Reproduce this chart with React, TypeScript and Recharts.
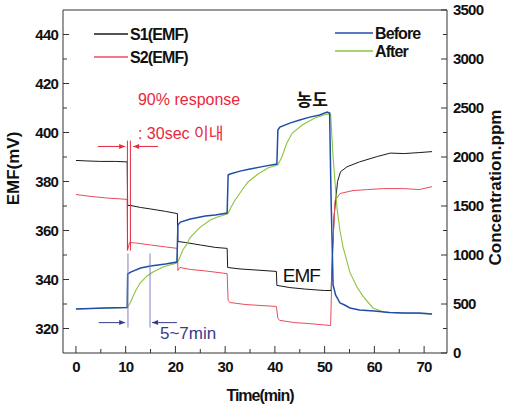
import React from 'react';
import {
  LineChart,
  Line,
  XAxis,
  YAxis,
  ReferenceLine,
  ReferenceDot,
  Legend,
} from 'recharts';

const FONT = '"Liberation Sans", Arial, "Noto Sans CJK KR", sans-serif';

const xTicks = [0, 5, 10, 15, 20, 25, 30, 35, 40, 45, 50, 55, 60, 65, 70];
const emfTicks = [320, 330, 340, 350, 360, 370, 380, 390, 400, 410, 420, 430, 440];
const ppmTicks = [0, 250, 500, 750, 1000, 1250, 1500, 1750, 2000, 2250, 2500, 2750, 3000, 3250, 3500];

// S1(EMF), mV
const s1Time = [0, 2, 5, 8, 10.3, 10.4, 11, 13, 15, 18, 20.4, 20.5, 22, 25, 28, 30.4, 30.5, 33, 36, 40.3, 40.4, 43, 46, 50, 51.3, 51.9, 52.2, 52.6, 53.2, 54.5, 57, 60.6, 63.2, 66, 69, 71.6];
const s1Emf = [388.6, 388.4, 388.2, 388.2, 388.0, 370.2, 370.2, 369.4, 368.8, 367.8, 366.9, 355.5, 355.1, 354.1, 353.1, 352.7, 344.9, 344.3, 343.9, 343.3, 337.6, 336.7, 336.1, 335.5, 335.5, 366.1, 372.0, 380.0, 384.0, 386.0, 388.0, 390.2, 391.6, 391.4, 391.8, 392.2];

// S2(EMF), mV
const s2Time = [0, 3, 6, 10.3, 10.4, 10.8, 12, 15, 18, 20.4, 20.5, 20.9, 23, 26, 30.4, 30.6, 31, 34, 37, 40.3, 40.6, 41, 44, 47, 51.2, 51.6, 52.1, 53.1, 55.7, 58.6, 61.8, 66, 69, 71.6];
const s2Emf = [374.7, 373.9, 373.3, 372.7, 352.2, 355.1, 354.9, 354.1, 353.3, 352.7, 343.7, 344.9, 344.1, 343.5, 342.4, 331.4, 330.6, 329.8, 329.4, 329.0, 324.1, 323.3, 322.4, 322.0, 321.2, 352.0, 372.2, 375.1, 376.3, 376.7, 377.1, 377.1, 376.7, 377.9];

// Before, ppm
const beforeTime = [0, 3, 6, 10.3, 10.4, 11, 13, 15, 18, 20.3, 20.5, 21, 23, 26, 28, 30.4, 30.6, 31, 33, 35, 38, 40.4, 40.6, 41, 43, 45, 47, 49, 50.5, 51.0, 51.3, 51.7, 52.2, 53.1, 54, 55.1, 57, 60, 63, 66, 69, 71.6];
const beforePpm = [449, 454, 459, 464, 806, 826, 867, 887, 908, 928, 1306, 1336, 1367, 1397, 1408, 1428, 1816, 1826, 1856, 1877, 1907, 1928, 2275, 2305, 2346, 2377, 2407, 2428, 2458, 2448, 1561, 694, 592, 510, 490, 459, 439, 428, 413, 408, 408, 398];

// After, ppm
const afterTime = [0, 3, 6, 10.3, 10.4, 11, 11.5, 12.2, 12.9, 14.3, 15.5, 17.5, 20.3, 20.5, 21, 21.5, 22.3, 22.9, 24, 25, 27, 28.5, 30.4, 30.6, 31.2, 32, 33.4, 34.6, 36.6, 38.6, 40.4, 40.6, 41.4, 42.4, 43.5, 45.5, 48, 50.5, 51.2, 51.7, 52.5, 53.1, 53.7, 55.1, 56.5, 57.7, 59.7, 61.8, 65, 71.6];
const afterPpm = [449, 454, 459, 464, 469, 520, 582, 653, 714, 786, 826, 877, 918, 928, 990, 1051, 1112, 1173, 1234, 1285, 1357, 1387, 1418, 1428, 1490, 1561, 1663, 1745, 1826, 1887, 1918, 1918, 2000, 2142, 2244, 2326, 2398, 2438, 2438, 2000, 1470, 1245, 1081, 820, 673, 580, 460, 418, 408, 398];

const pairs = (ts: number[], vs: number[]) => ts.map((t, i) => ({ t, v: vs[i] }));

const AXIS = '#333';
const tickFont = { fontFamily: FONT, fontSize: 15, fontWeight: 'bold' as const, letterSpacing: -0.8 };

function BottomTick({ x, y, payload }: any) {
  const major = payload.value % 10 === 0;
  return (
    <g>
      <line x1={x} x2={x} y1={y} y2={y - (major ? 7 : 4)} stroke={AXIS} />
      {major && (
        <text x={x} y={y + 14} dy="0.35em" textAnchor="middle" fill="#111" {...tickFont}>
          {payload.value}
        </text>
      )}
    </g>
  );
}

function LeftTick({ x, y, payload }: any) {
  const major = payload.value % 20 === 0;
  return (
    <g>
      <line x1={x} x2={x + (major ? 6 : 4)} y1={y} y2={y} stroke={AXIS} />
      {major && (
        <text x={x - 5} y={y} dy="0.35em" textAnchor="end" fill="#111" {...tickFont}>
          {payload.value}
        </text>
      )}
    </g>
  );
}

function RightTick({ x, y, payload }: any) {
  const major = payload.value % 500 === 0;
  return (
    <g>
      <line x1={x} x2={x - (major ? 6 : 4)} y1={y} y2={y} stroke={AXIS} />
      {major && (
        <text x={x + 6} y={y} dy="0.35em" textAnchor="start" fill="#111" {...tickFont}>
          {payload.value}
        </text>
      )}
    </g>
  );
}

function AxisTitle({ viewBox, text, cx, cy, rotate, size, spacing }: any) {
  const x = cx(viewBox);
  const y = cy(viewBox);
  return (
    <text
      x={x}
      y={y}
      dy="0.35em"
      textAnchor="middle"
      transform={rotate ? `rotate(-90 ${x} ${y})` : undefined}
      fontFamily={FONT}
      fontSize={size}
      fontWeight="bold"
      letterSpacing={spacing}
      fill="#111"
    >
      {text}
    </text>
  );
}

function Note({ viewBox, text, color, size, anchor = 'start', weight = 'normal', spacing = 0, family = FONT }: any) {
  return (
    <text
      x={viewBox.x + (viewBox.width || 0) / 2}
      y={viewBox.y + (viewBox.height || 0) / 2}
      dy="0.35em"
      textAnchor={anchor}
      fill={color}
      fontSize={size}
      fontWeight={weight}
      letterSpacing={spacing}
      fontFamily={family}
    >
      {text}
    </text>
  );
}

const arrow = (color: string) => (p: any) => {
  const { x1, y1, x2, y2 } = p;
  const a = Math.atan2(y2 - y1, x2 - x1);
  const L = 6;
  const w = 2.5;
  const bx = x2 - L * Math.cos(a);
  const by = y2 - L * Math.sin(a);
  const px = -Math.sin(a) * w;
  const py = Math.cos(a) * w;
  return (
    <g>
      <line x1={x1} y1={y1} x2={x2} y2={y2} stroke={color} strokeWidth={1} />
      <polygon points={`${x2},${y2} ${bx + px},${by + py} ${bx - px},${by - py}`} fill={color} />
    </g>
  );
};

const legendPos: Record<string, { x: number; y: number; len: number }> = {
  'S1(EMF)': { x: 94, y: 34, len: 34 },
  'S2(EMF)': { x: 94, y: 57, len: 34 },
  Before: { x: 335, y: 33, len: 38 },
  After: { x: 335, y: 51, len: 38 },
};

function LegendBox({ payload }: any) {
  return (
    <svg width={505} height={409} style={{ position: 'absolute', left: 0, top: 0, overflow: 'visible' }}>
      {(payload || []).map((e: any) => {
        const p = legendPos[e.value];
        if (!p) return null;
        return (
          <g key={e.value}>
            <line x1={p.x} x2={p.x + p.len} y1={p.y} y2={p.y} stroke={e.color} strokeWidth={1.3} />
            <text
              x={p.x + p.len + 2}
              y={p.y}
              dy="0.35em"
              fontFamily={FONT}
              fontSize={16}
              fontWeight="bold"
              letterSpacing={-0.9}
              fill="#111"
            >
              {e.value}
            </text>
          </g>
        );
      })}
    </svg>
  );
}

const RED = '#e8283c';
const NAVY = '#3a3a8c';
const LAVENDER = '#8080bc';

export default function App() {
  return (
    <div style={{ position: 'absolute', left: 0, top: 0, background: '#fff' }}>
      <LineChart width={505} height={409} margin={{ top: 10, right: 0, bottom: 0, left: 0 }}>
        <XAxis
          dataKey="t"
          type="number"
          domain={[-2.6, 74.6]}
          allowDataOverflow
          ticks={xTicks}
          interval={0}
          height={56}
          tickSize={0}
          tickMargin={0}
          tickLine={false}
          axisLine={{ stroke: AXIS }}
          tick={<BottomTick />}
          label={
            <AxisTitle
              text="Time(min)"
              size={16}
              spacing={-1}
              cx={(vb: any) => vb.x + vb.width / 2 + 5}
              cy={(vb: any) => vb.y + 42}
            />
          }
        />
        <YAxis
          yAxisId="left"
          orientation="left"
          type="number"
          domain={[310, 450]}
          allowDataOverflow
          ticks={emfTicks}
          interval={0}
          width={63}
          tickSize={0}
          tickMargin={0}
          tickLine={false}
          axisLine={{ stroke: AXIS }}
          tick={<LeftTick />}
          label={
            <AxisTitle
              text="EMF(mV)"
              size={17}
              spacing={0}
              rotate
              cx={(vb: any) => vb.x + 13}
              cy={(vb: any) => vb.y + vb.height / 2 - 13}
            />
          }
        />
        <YAxis
          yAxisId="right"
          orientation="right"
          type="number"
          domain={[0, 3500]}
          allowDataOverflow
          ticks={ppmTicks}
          interval={0}
          width={58}
          tickSize={0}
          tickMargin={0}
          tickLine={false}
          axisLine={{ stroke: AXIS }}
          tick={<RightTick />}
          label={
            <AxisTitle
              text="Concentration.ppm"
              size={17}
              spacing={0}
              rotate
              cx={(vb: any) => vb.x + 48}
              cy={(vb: any) => vb.y + vb.height / 2 + 6}
            />
          }
        />
        <ReferenceLine yAxisId="left" y={450} stroke={AXIS} />

        <Line
          yAxisId="left"
          data={pairs(s1Time, s1Emf)}
          dataKey="v"
          name="S1(EMF)"
          stroke="#1a1a1a"
          strokeWidth={1}
          dot={false}
          isAnimationActive={false}
        />
        <Line
          yAxisId="left"
          data={pairs(s2Time, s2Emf)}
          dataKey="v"
          name="S2(EMF)"
          stroke="#ea4c5c"
          strokeWidth={1}
          dot={false}
          isAnimationActive={false}
        />
        <Line
          yAxisId="right"
          data={pairs(afterTime, afterPpm)}
          dataKey="v"
          name="After"
          stroke="#8cc43c"
          strokeWidth={1.1}
          dot={false}
          isAnimationActive={false}
        />
        <Line
          yAxisId="right"
          data={pairs(beforeTime, beforePpm)}
          dataKey="v"
          name="Before"
          stroke="#1f4ea8"
          strokeWidth={1.5}
          dot={false}
          isAnimationActive={false}
        />

        {/* 90% response markers */}
        <ReferenceLine yAxisId="left" segment={[{ x: 4.4, y: 394.3 }, { x: 9.9, y: 394.3 }]} shape={arrow(RED)} />
        <ReferenceLine yAxisId="left" segment={[{ x: 16.5, y: 394.3 }, { x: 11.5, y: 394.3 }]} shape={arrow(RED)} />
        <ReferenceLine yAxisId="left" segment={[{ x: 10.35, y: 396.7 }, { x: 10.35, y: 351.8 }]} stroke={RED} />
        <ReferenceLine yAxisId="left" segment={[{ x: 10.95, y: 396.7 }, { x: 10.95, y: 351.8 }]} stroke={RED} />

        {/* 5~7min markers */}
        <ReferenceLine yAxisId="left" segment={[{ x: 10.46, y: 350.6 }, { x: 10.46, y: 320.4 }]} stroke={LAVENDER} />
        <ReferenceLine yAxisId="left" segment={[{ x: 14.9, y: 350.6 }, { x: 14.9, y: 320.4 }]} stroke={LAVENDER} />
        <ReferenceLine yAxisId="left" segment={[{ x: 4.6, y: 322.4 }, { x: 9.9, y: 322.4 }]} shape={arrow(NAVY)} />
        <ReferenceLine yAxisId="left" segment={[{ x: 20.3, y: 322.4 }, { x: 15.3, y: 322.4 }]} shape={arrow(NAVY)} />

        <ReferenceDot yAxisId="left" x={12.47} y={413.5} r={0} fill="none" stroke="none"
          label={<Note text="90% response" color={RED} size={16} />} />
        <ReferenceDot yAxisId="left" x={12.47} y={399.6} r={0} fill="none" stroke="none"
          label={<Note text=": 30sec 이내" color={RED} size={16} />} />
        <ReferenceDot yAxisId="left" x={16.9} y={318.0} r={0} fill="none" stroke="none"
          label={<Note text="5~7min" color={NAVY} size={17} />} />
        <ReferenceDot yAxisId="left" x={41.6} y={341.6} r={0} fill="none" stroke="none"
          label={<Note text="EMF" color="#111" size={19} spacing={-1} />} />
        <ReferenceDot yAxisId="left" x={47.5} y={413.1} r={0} fill="none" stroke="none"
          label={<Note text="농도" color="#111" size={17} anchor="middle" weight="bold"
            family='"Noto Sans CJK KR", sans-serif' />} />

        <Legend
          layout="horizontal"
          verticalAlign="middle"
          align="center"
          width={505}
          height={409}
          wrapperStyle={{ left: 0, top: 0, width: 505, height: 409, pointerEvents: 'none' }}
          content={<LegendBox />}
        />
      </LineChart>
    </div>
  );
}
